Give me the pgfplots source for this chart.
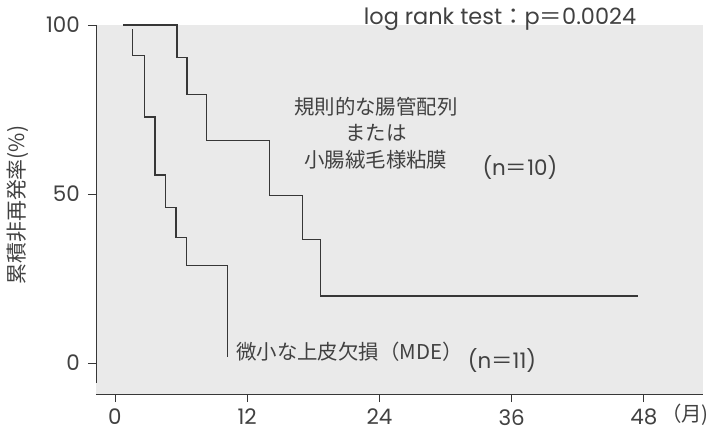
\documentclass[border=0pt]{standalone}
\usepackage{fontspec}
\setmainfont{Poppins}
\newfontfamily\cjk{Noto Sans CJK JP}
\usepackage{pgfplots}
\pgfplotsset{compat=1.18}
\definecolor{bggray}{RGB}{234,234,234}
\definecolor{ink}{RGB}{55,55,55}
\definecolor{txt}{RGB}{65,65,65}
\begin{document}
\begin{tikzpicture}
\begin{axis}[
  scale only axis, width=607bp, height=369bp,
  xmin=-1.72, xmax=53.36, ymin=-9.17, ymax=100,
  axis line style={draw=none},
  axis background/.style={fill=bggray},
  xtick={0,12,24,36,48}, ytick={0,50,100},
  tick pos=left,
  tick align=outside, major tick length=8bp,
  tick style={draw=ink, line width=0.9bp},
  tick label style={font=\fontsize{21.5}{24}\selectfont, text=txt, inner sep=0pt},
  /pgf/number format/assume math mode=true,
  yticklabel style={anchor=east, xshift=-8bp},
  xticklabel style={anchor=north, yshift=-7bp},
  clip=false,
]
\coordinate (O) at (axis cs:-1.72,-9.17);
\draw[ink, line width=0.9bp] (axis cs:-1.72,100) -- (axis cs:-1.72,-5.9);
\draw[ink, line width=0.9bp] (axis cs:-1.72,-9.17) -- (axis cs:53.36,-9.17);

\addplot[ink, line width=1.3bp] coordinates {(0.73,100) (5.63,100) (5.63,90.4) (6.53,90.4) (6.53,79.5) (8.32,79.5) (8.32,65.8) (14.0,65.8) (14.0,49.5) (17.0,49.5) (17.0,36.6) (18.66,36.6) (18.66,19.8) (47.42,19.8)};
\addplot[ink, line width=1.3bp] coordinates {(1.61,98.8) (1.61,90.9) (2.66,90.9) (2.66,72.8) (3.63,72.8) (3.63,55.6) (4.60,55.6) (4.60,46.1) (5.54,46.1) (5.54,37.2) (6.51,37.2) (6.51,28.8) (10.19,28.8) (10.19,1.9)};

\node[anchor=base, inner sep=0pt, text=txt, font=\fontsize{22.5}{26}\selectfont] at (axis cs:34.94,100) {log rank test{\cjk ：}p{\cjk ＝}0.0024};
\node[inner sep=0pt, text=txt, font=\cjk\fontsize{20.5}{24}\selectfont] at (axis cs:23.68,75.9) {規則的な腸管配列};
\node[inner sep=0pt, text=txt, font=\cjk\fontsize{20.5}{24}\selectfont] at (axis cs:23.68,68.2) {または};
\node[inner sep=0pt, text=txt, font=\cjk\fontsize{20.5}{24}\selectfont] at (axis cs:23.68,60.2) {小腸絨毛様粘膜};
\node[anchor=base, inner sep=0pt, text=txt, font=\fontsize{21.5}{24}\selectfont] at (axis cs:36.75,55.6) {(n{\cjk ＝}10)};
\node[anchor=base west, inner sep=0pt, text=txt, font=\cjk\fontsize{20.5}{24}\selectfont] at (axis cs:10.98,0.9) {微小な上皮欠損（MDE）};
\node[anchor=base, inner sep=0pt, text=txt, font=\fontsize{21.5}{24}\selectfont] at (axis cs:35.12,-1.5) {(n{\cjk ＝}11)};
\node[anchor=base east, inner sep=0pt, text=txt, font=\cjk\fontsize{20.5}{24}\selectfont] at (axis cs:53.9,-17.2) {（月)};
\node[rotate=90, inner sep=0pt, text=txt, font=\cjk\fontsize{21}{24}\selectfont] at (axis cs:-8.80,46.7) {累積非再発率(\%)};
\end{axis}
\pgfresetboundingbox
\path (O) ++(-96bp,-39bp) rectangle ++(713bp,433bp);
\end{tikzpicture}
\end{document}
